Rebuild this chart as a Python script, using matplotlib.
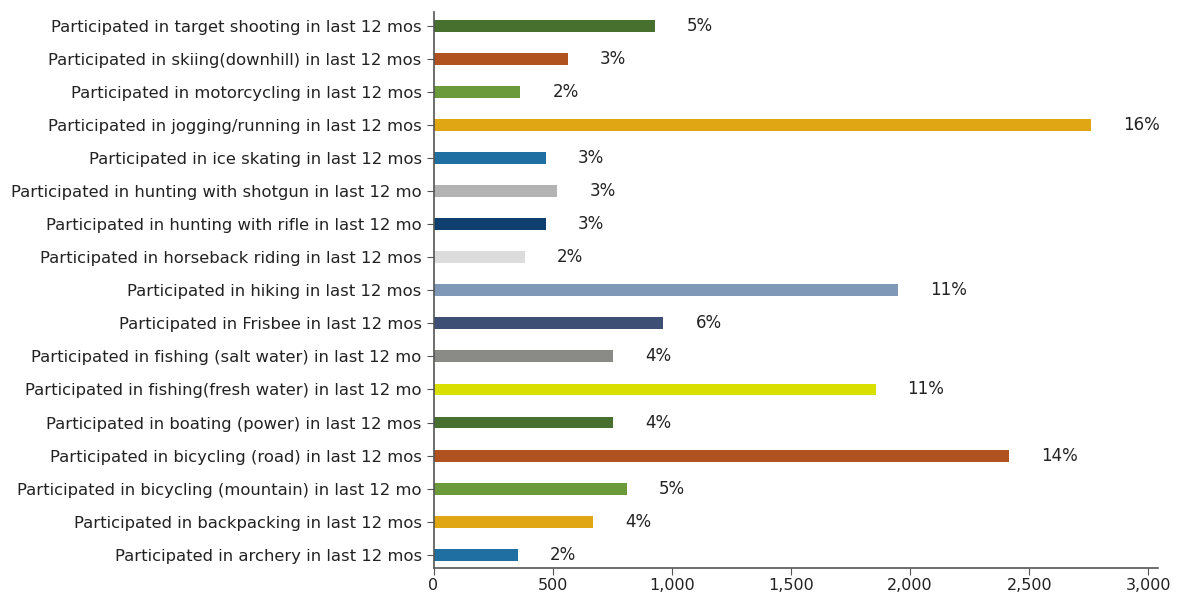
import numpy as np
import matplotlib.pyplot as plt
from matplotlib.ticker import FuncFormatter

labels = ['Participated in target shooting in last 12 mos',
          'Participated in skiing(downhill) in last 12 mos',
          'Participated in motorcycling in last 12 mos',
          'Participated in jogging/running in last 12 mos',
          'Participated in ice skating in last 12 mos',
          'Participated in hunting with shotgun in last 12 mo',
          'Participated in hunting with rifle in last 12 mo',
          'Participated in horseback riding in last 12 mos',
          'Participated in hiking in last 12 mos',
          'Participated in Frisbee in last 12 mos',
          'Participated in fishing (salt water) in last 12 mo',
          'Participated in fishing(fresh water) in last 12 mo',
          'Participated in boating (power) in last 12 mos',
          'Participated in bicycling (road) in last 12 mos',
          'Participated in bicycling (mountain) in last 12 mo',
          'Participated in backpacking in last 12 mos',
          'Participated in archery in last 12 mos']
counts = [930, 565, 365, 2760, 470, 520, 470, 385, 1950, 965, 755, 1855, 755, 2415, 810, 670, 355]
pcts = ['5%', '3%', '2%', '16%', '3%', '3%', '3%', '2%', '11%', '6%', '4%', '11%', '4%', '14%', '5%', '4%', '2%']
colors = ['#476f2e', '#b0521f', '#6a9a3a', '#e0a614', '#1f6fa3', '#b3b3b3', '#0e3f6e', '#dcdcdc',
          '#7f98b8', '#3e4f75', '#8a8a86', '#d9e000', '#476f2e', '#b0521f', '#6a9a3a', '#e0a614', '#1f6fa3']

fig = plt.figure(figsize=(11.78, 5.96), dpi=100)
ax = fig.add_axes([0.368, 0.047, 0.615, 0.933])

y = np.arange(len(labels))
ax.barh(y, counts, height=0.36, color=colors)
for yi, c, p in zip(y, counts, pcts):
    ax.annotate(p, (c, yi), xytext=(23, 0), textcoords='offset points',
                va='center', ha='left', fontsize=12, color='#222222')

ax.set_yticks(y)
ax.set_yticklabels(labels, fontsize=11.8, color='#222222')
ax.set_ylim(len(labels) - 0.6, -0.42)
ax.set_xlim(0, 3040)
ax.set_xticks([0, 500, 1000, 1500, 2000, 2500, 3000])
ax.xaxis.set_major_formatter(FuncFormatter(lambda v, pos: f'{int(v):,}'))
ax.tick_params(axis='x', labelsize=11.5, length=5, pad=2, color='#555555', labelcolor='#222222')
ax.tick_params(axis='y', length=5, color='#555555')
for s in ['top', 'right']:
    ax.spines[s].set_visible(False)
for s in ['left', 'bottom']:
    ax.spines[s].set_color('#555555')
    ax.spines[s].set_linewidth(1.2)

fig.savefig('out.png', dpi=100)
